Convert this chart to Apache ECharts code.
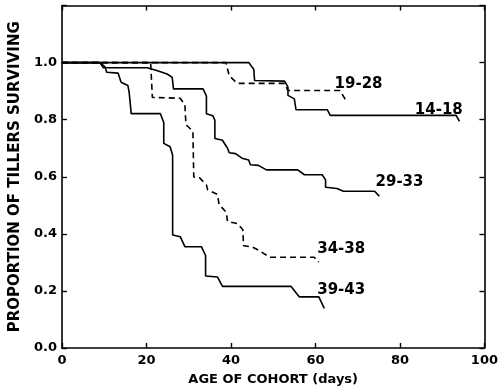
<!DOCTYPE html>
<html>
<head>
<meta charset="utf-8">
<script src="https://cdn.jsdelivr.net/npm/echarts@6/dist/echarts.min.js"></script>
<style>html,body{margin:0;padding:0;background:#fff}#c{width:501px;height:391px}</style>
</head>
<body>
<div id="c"></div>
<script>
// Survival curves (age in days, proportion surviving)
var cohort14_18 = [[0,1.0],[44.2,1.0],[45.4,0.977],[45.6,0.937],[52.7,0.935],[53.5,0.914],[53.5,0.885],[55.0,0.873],[55.4,0.835],[62.8,0.835],[63.5,0.815],[93.3,0.815],[94.1,0.794]];
var cohort19_28 = [[0,1.0],[38.8,1.0],[39.6,0.954],[41.5,0.927],[52.7,0.927],[53.5,0.902],[65.8,0.902],[67.4,0.863]];
var cohort29_33 = [[0,1.0],[9.0,1.0],[9.8,0.982],[20.2,0.982],[22.6,0.971],[24.9,0.960],[26.1,0.948],[26.4,0.908],[33.4,0.908],[34.2,0.883],[34.2,0.821],[35.7,0.814],[36.2,0.798],[36.2,0.734],[38.0,0.728],[39.2,0.700],[39.6,0.684],[41.1,0.681],[42.6,0.665],[44.2,0.659],[44.6,0.642],[46.5,0.640],[48.4,0.624],[55.8,0.624],[57.4,0.607],[61.6,0.607],[62.4,0.589],[62.4,0.563],[65.1,0.559],[66.6,0.549],[74.0,0.549],[75.1,0.532]];
var cohort34_38 = [[0,1.0],[21.0,1.0],[21.4,0.878],[28.0,0.875],[29.1,0.852],[29.35,0.783],[31.0,0.759],[31.2,0.599],[32.6,0.596],[34.2,0.571],[34.5,0.554],[36.8,0.538],[37.2,0.503],[38.9,0.475],[39.2,0.443],[41.5,0.436],[42.8,0.415],[43.0,0.358],[45.0,0.354],[46.1,0.346],[49.2,0.318],[59.7,0.318],[60.8,0.301]];
var cohort39_43 = [[0,1.0],[9.0,1.0],[10.2,0.985],[10.6,0.966],[13.3,0.963],[14.0,0.931],[15.6,0.920],[15.9,0.897],[16.4,0.821],[23.3,0.821],[24.1,0.790],[24.1,0.717],[25.6,0.705],[26.2,0.675],[26.2,0.396],[28.0,0.390],[29.1,0.355],[33.0,0.355],[34.0,0.324],[34.0,0.252],[36.8,0.249],[38.0,0.216],[54.2,0.216],[56.2,0.179],[60.8,0.179],[62.1,0.139]];
var cohortNames = ['14-18','19-28','29-33','34-38','39-43'];
var cohortDashed = [false,true,false,true,false];
// label anchors (data coordinates)
var labelAnchors = [[89.2,0.832],[70.2,0.925],[79.9,0.580],[66.1,0.345],[66.1,0.203]];
var xTicks = [0,20,40,60,80,100];
var yTicks = [0.0,0.2,0.4,0.6,0.8,1.0];

var allData = [cohort14_18,cohort19_28,cohort29_33,cohort34_38,cohort39_43];
var FONT = 'DejaVu Sans';
var series = allData.map(function(d,i){
  return {
    type:'line', data:d, showSymbol:false, symbol:'none', silent:true, animation:false,
    lineStyle:{color:'#000', width:1.6, type: cohortDashed[i] ? [6,4] : 'solid'},
    z: cohortDashed[i] ? 3 : 2
  };
});
series.push({
  type:'scatter', symbolSize:0, silent:true, animation:false, itemStyle:{color:'#000', opacity:1},
  data: labelAnchors.map(function(p,i){return {value:[p[0],p[1]], name:cohortNames[i]};}),
  label:{show:true, position:[0,0], align:'center', verticalAlign:'middle', formatter:'{b}',
    color:'#000', opacity:1, textBorderWidth:0, fontFamily:FONT, fontWeight:'bold', fontSize:15}
});

function axisCommon(){
  return {
    min:0, axisLine:{show:true, onZero:false, lineStyle:{color:'#000', width:1.6}},
    axisTick:{show:true, inside:true, length:5, lineStyle:{color:'#000', width:1.4}},
    splitLine:{show:false}
  };
}
var xBottom = Object.assign(axisCommon(), {
  type:'value', position:'bottom', max:100, interval:20,
  axisLabel:{color:'#000', fontFamily:FONT, fontWeight:'bold', fontSize:13, margin:6,
    formatter:function(v){return xTicks.indexOf(v)>=0 ? String(v) : '';}},
  name:'AGE OF COHORT (days)', nameLocation:'middle', nameGap:25,
  nameTextStyle:{color:'#000', fontFamily:FONT, fontWeight:'bold', fontSize:13}
});
var xTop = Object.assign(axisCommon(), {type:'value', position:'top', max:100, interval:20, axisLabel:{show:false}});
var yLeft = Object.assign(axisCommon(), {
  type:'value', position:'left', max:1.2, interval:0.2,
  axisLabel:{color:'#000', fontFamily:FONT, fontWeight:'bold', fontSize:13, margin:5,
    formatter:function(v){
      for (var k=0;k<yTicks.length;k++){ if (Math.abs(yTicks[k]-v)<1e-6) return yTicks[k].toFixed(1); }
      return '';
    }},
  name:'PROPORTION OF TILLERS SURVIVING', nameLocation:'middle', nameGap:38,
  nameTextStyle:{color:'#000', fontFamily:FONT, fontWeight:'bold', fontSize:15}
});
var yRight = Object.assign(axisCommon(), {type:'value', position:'right', max:1.2, interval:0.2, axisLabel:{show:false}});

var chart = echarts.init(document.getElementById('c'), null, {renderer:'canvas'});
chart.setOption({
  backgroundColor:'#fff',
  animation:false,
  grid:{left:59.5, right:10.5, top:5.5, bottom:39.3, containLabel:false},
  xAxis:[xBottom, xTop],
  yAxis:[yLeft, yRight],
  series:series
});
</script>
</body>
</html>
